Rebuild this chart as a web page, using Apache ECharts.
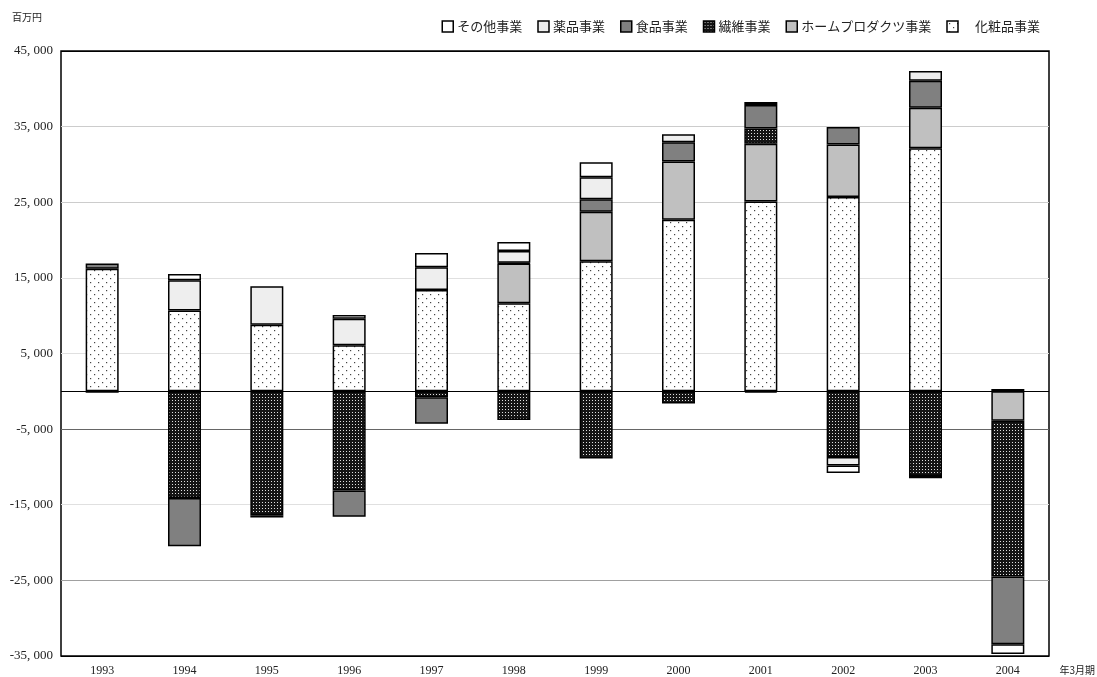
<!DOCTYPE html>
<html>
<head>
<meta charset="utf-8">
<script src="https://cdn.jsdelivr.net/npm/echarts@6/dist/echarts.min.js"></script>
<style>
html,body{margin:0;padding:0;background:#fff;}
#c{width:1097px;height:677px;}
</style>
</head>
<body>
<div id="c"></div>
<script>
const years = ['1993','1994','1995','1996','1997','1998','1999','2000','2001','2002','2003','2004'];
const cosmetics = [16200, 10700, 8800, 6100, 13400, 11650, 17200, 22700, 25100, 25700, 32150, 0];
const homeProducts = [0, 0, 0, 0, 0, 5250, 6550, 7700, 7650, 6950, 5350, -3900];
const textile = [-200, -14100, -16400, -13100, -800, -3800, -8900, -1600, 2000, -8700, -11200, -20600];
const food = [700, -6400, -300, -3500, -3500, 100, 1650, 2550, 3100, 2300, 3550, -8950];
const pharma = [0, 4000, 5100, 3500, 3000, 1550, 2900, 1050, 400, -1100, 1300, 300];
const other = [0, 800, 0, 500, 1900, 1200, 2000, 0, -150, -1000, -300, -1300];
const seriesNames = ['化粧品事業','ホームプロダクツ事業','繊維事業','食品事業','薬品事業','その他事業'];
const legendOrder = ['その他事業','薬品事業','食品事業','繊維事業','ホームプロダクツ事業','化粧品事業'];
const yMin = -35000, yMax = 45000, yStep = 10000;

function dotPattern() {
  const c = document.createElement('canvas');
  c.width = 8; c.height = 8;
  const g = c.getContext('2d');
  g.fillStyle = '#ffffff'; g.fillRect(0,0,8,8);
  g.fillStyle = '#444444';
  g.fillRect(2,2,1.2,1.2);
  g.fillRect(6,6,1.2,1.2);
  return {image: c, repeat: 'repeat'};
}
function darkPattern() {
  const c = document.createElement('canvas');
  c.width = 3; c.height = 3;
  const g = c.getContext('2d');
  g.fillStyle = '#151515'; g.fillRect(0,0,3,3);
  g.fillStyle = '#e0e0e0';
  g.fillRect(1,1,1,1);
  return {image: c, repeat: 'repeat'};
}
const fills = [dotPattern(), '#c0c0c0', darkPattern(), '#808080', '#eeeeee', '#ffffff'];
const dataSets = [cosmetics, homeProducts, textile, food, pharma, other];

const serif = '"Liberation Serif", "DejaVu Serif", "Noto Sans CJK JP", serif';
const jp = '"Noto Sans CJK JP", sans-serif';

const series = seriesNames.map((n, i) => ({
  name: n,
  type: 'bar',
  stack: 'total',
  barWidth: 33,
  data: dataSets[i].map(v => v === 0 ? null : v),
  itemStyle: {color: fills[i], borderColor: '#000', borderWidth: 1.5},
  emphasis: {disabled: true}
}));
series[0].markLine = {
  silent: true, symbol: 'none', label: {show: false},
  lineStyle: {color: '#000', width: 1, type: 'solid'},
  data: [{yAxis: 0}]
};

const chart = echarts.init(document.getElementById('c'), null, {renderer: 'canvas'});
chart.setOption({
  animation: false,
  backgroundColor: '#fff',
  legend: {
    data: legendOrder.map(n => n === '化粧品事業' ? {name: n, textStyle: {padding: [0,0,0,12]}} : n),
    right: 52, top: 15,
    itemWidth: 11, itemHeight: 11, itemGap: 15,
    icon: 'rect',
    textStyle: {fontFamily: jp, fontSize: 13, color: '#222', padding: [0,0,0,-1]},
    itemStyle: {borderColor: '#000', borderWidth: 1.5}
  },
  grid: {left: 61, right: 48, top: 51, bottom: 20, show: true, borderColor: '#000', borderWidth: 1.5, containLabel: false},
  xAxis: {
    type: 'category', data: years,
    axisLine: {show: false}, axisTick: {show: false},
    axisLabel: {fontFamily: serif, fontSize: 12, color: '#222', margin: 9}
  },
  yAxis: {
    type: 'value', min: yMin, max: yMax, interval: yStep,
    axisLine: {show: false}, axisTick: {show: false},
    axisLabel: {
      fontFamily: serif, fontSize: 13, color: '#222', margin: 8,
      formatter: v => (v < 0 ? '-' : '') + Math.abs(v).toLocaleString('en-US').replace(',', ', ')
    },
    splitLine: {lineStyle: {color: ['#000','#a0a0a0','#e0e0e0','#666666','#e0e0e0','#e0e0e0','#cccccc','#cccccc','#000'], width: 1}}
  },
  graphic: [{
    type: 'text', left: 12, top: 12,
    style: {text: '百万円', font: '10px "Noto Sans CJK JP"', fill: '#222'}
  }, {
    type: 'text', right: 2, bottom: 2,
    style: {text: '年3月期', font: '10px "Noto Sans CJK JP"', fill: '#222'}
  }],
  series: series
});
</script>
</body>
</html>
